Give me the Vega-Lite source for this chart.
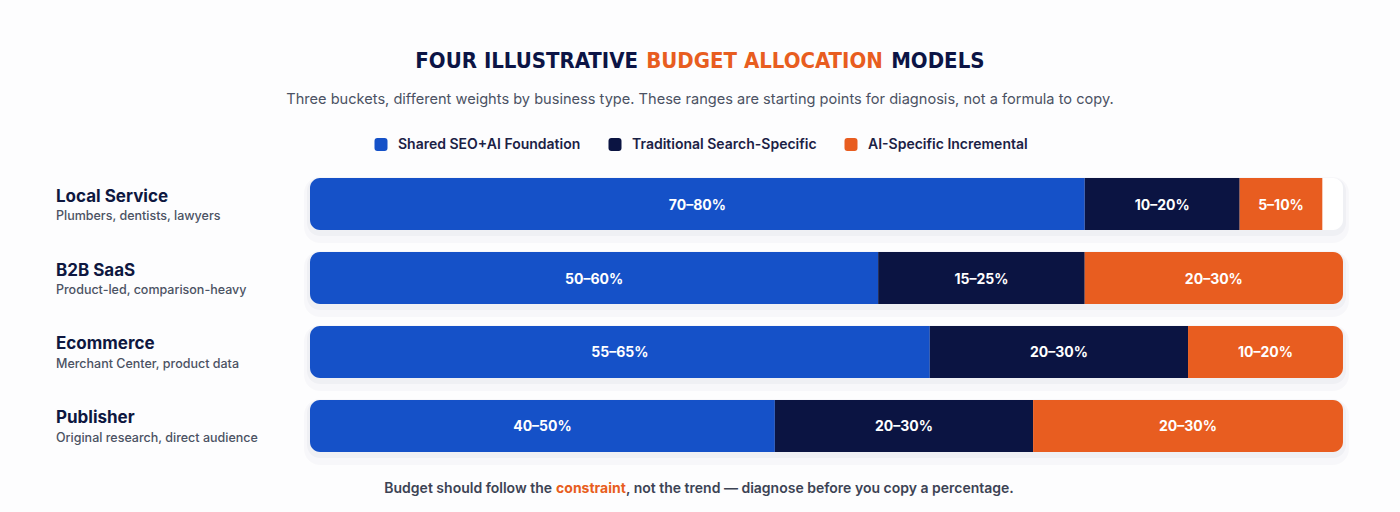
{
  "$schema": "https://vega.github.io/schema/vega-lite/v6.json",
  "width": 1400,
  "height": 512,
  "autosize": {"type": "fit", "contains": "padding"},
  "padding": 0,
  "background": "#fdfdfe",
  "config": {
    "view": {"stroke": null},
    "font": "Inter",
    "legend": {
      "orient": "none",
      "legendX": 374,
      "legendY": 137.5,
      "direction": "horizontal",
      "padding": 0,
      "labelFont": "Inter",
      "labelFontSize": 14,
      "labelFontWeight": 600,
      "labelColor": "#1b2145",
      "labelOffset": 10,
      "labelLimit": 300,
      "columnPadding": 27,
      "symbolSize": 169,
      "symbolStrokeWidth": 0,
      "symbolOpacity": 1,
      "symbolType": "M-1,-0.55 Q-1,-1 -0.55,-1 L0.55,-1 Q1,-1 1,-0.55 L1,0.55 Q1,1 0.55,1 L-0.55,1 Q-1,1 -1,0.55 Z"
    }
  },
  "datasets": {
    "models": [
      {"model": "Local Service", "note": "Plumbers, dentists, lawyers"},
      {"model": "B2B SaaS", "note": "Product-led, comparison-heavy"},
      {"model": "Ecommerce", "note": "Merchant Center, product data"},
      {"model": "Publisher", "note": "Original research, direct audience"}
    ],
    "segments": [
      {"model": "Local Service", "bucket": "Shared SEO+AI Foundation", "k": 1, "share": 75, "label": "70–80%"},
      {"model": "Local Service", "bucket": "Traditional Search-Specific", "k": 2, "share": 15, "label": "10–20%"},
      {"model": "Local Service", "bucket": "AI-Specific Incremental", "k": 3, "share": 8, "label": "5–10%"},
      {"model": "B2B SaaS", "bucket": "Shared SEO+AI Foundation", "k": 1, "share": 55, "label": "50–60%"},
      {"model": "B2B SaaS", "bucket": "Traditional Search-Specific", "k": 2, "share": 20, "label": "15–25%"},
      {"model": "B2B SaaS", "bucket": "AI-Specific Incremental", "k": 3, "share": 25, "label": "20–30%"},
      {"model": "Ecommerce", "bucket": "Shared SEO+AI Foundation", "k": 1, "share": 60, "label": "55–65%"},
      {"model": "Ecommerce", "bucket": "Traditional Search-Specific", "k": 2, "share": 25, "label": "20–30%"},
      {"model": "Ecommerce", "bucket": "AI-Specific Incremental", "k": 3, "share": 15, "label": "10–20%"},
      {"model": "Publisher", "bucket": "Shared SEO+AI Foundation", "k": 1, "share": 45, "label": "40–50%"},
      {"model": "Publisher", "bucket": "Traditional Search-Specific", "k": 2, "share": 25, "label": "20–30%"},
      {"model": "Publisher", "bucket": "AI-Specific Incremental", "k": 3, "share": 30, "label": "20–30%"}
    ]
  },
  "layer": [
    {
      "encoding": {
        "y": {
          "field": "model",
          "type": "nominal",
          "sort": ["Local Service", "B2B SaaS", "Ecommerce", "Publisher"],
          "scale": {"range": [178, 452], "paddingInner": 0.297, "paddingOuter": 0},
          "axis": null
        }
      },
      "layer": [
        {
          "data": {"name": "models"},
          "mark": {"type": "bar", "color": "#0b1442", "opacity": 0.022, "cornerRadius": 16, "height": 66, "yOffset": 6, "xOffset": -6, "x2Offset": 6},
          "encoding": {
            "x": {"datum": 0, "type": "quantitative", "scale": {"domain": [-30.01, 105.52], "nice": false, "zero": false}, "axis": null},
            "x2": {"datum": 100}
          }
        },
        {
          "data": {"name": "models"},
          "mark": {"type": "bar", "color": "#0b1442", "opacity": 0.03, "cornerRadius": 13, "height": 58, "yOffset": 3, "xOffset": -3, "x2Offset": 3},
          "encoding": {
            "x": {"datum": 0, "type": "quantitative", "scale": {"domain": [-30.01, 105.52], "nice": false, "zero": false}, "axis": null},
            "x2": {"datum": 100}
          }
        },
        {
          "data": {"name": "models"},
          "mark": {"type": "bar", "color": "#ffffff", "cornerRadius": 10},
          "encoding": {
            "x": {"datum": 0, "type": "quantitative", "scale": {"domain": [-30.01, 105.52], "nice": false, "zero": false}, "axis": null},
            "x2": {"datum": 100}
          }
        },
        {
          "data": {"name": "segments"},
          "transform": [
            {"stack": "share", "groupby": ["model"], "sort": [{"field": "k", "order": "ascending"}], "as": ["x0", "x1"]},
            {"filter": "datum.k == 1"}
          ],
          "mark": {"type": "bar", "cornerRadiusTopLeft": 10, "cornerRadiusBottomLeft": 10},
          "encoding": {
            "x": {"field": "x0", "type": "quantitative", "scale": {"domain": [-30.01, 105.52], "nice": false, "zero": false}, "axis": null},
            "x2": {"field": "x1"},
            "color": {
              "field": "bucket",
              "type": "nominal",
              "scale": {
                "domain": ["Shared SEO+AI Foundation", "Traditional Search-Specific", "AI-Specific Incremental"],
                "range": ["#1551c8", "#0b1442", "#e85d20"]
              },
              "legend": {"title": null}
            }
          }
        },
        {
          "data": {"name": "segments"},
          "transform": [
            {"stack": "share", "groupby": ["model"], "sort": [{"field": "k", "order": "ascending"}], "as": ["x0", "x1"]},
            {"filter": "datum.k == 2 || (datum.k == 3 && datum.x1 < 99.9)"}
          ],
          "mark": {"type": "bar"},
          "encoding": {
            "x": {"field": "x0", "type": "quantitative", "scale": {"domain": [-30.01, 105.52], "nice": false, "zero": false}, "axis": null},
            "x2": {"field": "x1"},
            "color": {"field": "bucket", "type": "nominal"}
          }
        },
        {
          "data": {"name": "segments"},
          "transform": [
            {"stack": "share", "groupby": ["model"], "sort": [{"field": "k", "order": "ascending"}], "as": ["x0", "x1"]},
            {"filter": "datum.k == 3 && datum.x1 >= 99.9"}
          ],
          "mark": {"type": "bar", "cornerRadiusTopRight": 10, "cornerRadiusBottomRight": 10},
          "encoding": {
            "x": {"field": "x0", "type": "quantitative", "scale": {"domain": [-30.01, 105.52], "nice": false, "zero": false}, "axis": null},
            "x2": {"field": "x1"},
            "color": {"field": "bucket", "type": "nominal"}
          }
        },
        {
          "data": {"name": "segments"},
          "mark": {"type": "text", "color": "#ffffff", "fontSize": 14, "fontWeight": 700, "align": "center", "baseline": "middle", "dy": 1.5},
          "encoding": {
            "x": {"field": "share", "type": "quantitative", "stack": "zero", "bandPosition": 0.5, "scale": {"domain": [-30.01, 105.52], "nice": false, "zero": false}, "axis": null},
            "detail": {"field": "bucket"},
            "order": {"field": "k", "type": "quantitative"},
            "text": {"field": "label"}
          }
        },
        {
          "data": {"name": "models"},
          "mark": {"type": "text", "align": "left", "baseline": "middle", "dy": -7.5, "fontSize": 17, "fontWeight": 700, "color": "#0e1740"},
          "encoding": {
            "x": {"datum": -24.59, "type": "quantitative", "scale": {"domain": [-30.01, 105.52], "nice": false, "zero": false}, "axis": null},
            "text": {"field": "model"}
          }
        },
        {
          "data": {"name": "models"},
          "mark": {"type": "text", "align": "left", "baseline": "middle", "dy": 12, "fontSize": 12.5, "fontWeight": 500, "color": "#4b5263"},
          "encoding": {
            "x": {"datum": -24.59, "type": "quantitative", "scale": {"domain": [-30.01, 105.52], "nice": false, "zero": false}, "axis": null},
            "text": {"field": "note"}
          }
        }
      ]
    },
    {
      "encoding": {
        "x": {"field": "pos", "type": "quantitative", "scale": {"domain": [-30.01, 105.52], "nice": false, "zero": false}, "axis": null},
        "y": {"field": "row", "type": "quantitative", "scale": {"domain": [0, 100], "reverse": true, "nice": false, "zero": false}, "axis": null},
        "text": {"field": "t"}
      },
      "layer": [
        {
          "data": {"values": [{"t": "FOUR ILLUSTRATIVE", "pos": 31.76, "row": 11.9}]},
          "mark": {"type": "text", "align": "right", "baseline": "middle", "font": "DejaVu Sans Condensed, Roboto Condensed, Roboto", "fontSize": 22, "fontWeight": 700, "color": "#0c1445"}
        },
        {
          "data": {"values": [{"t": "BUDGET ALLOCATION", "pos": 44.0, "row": 11.9}]},
          "mark": {"type": "text", "align": "center", "baseline": "middle", "font": "DejaVu Sans Condensed, Roboto Condensed, Roboto", "fontSize": 22, "fontWeight": 700, "color": "#e85d20"}
        },
        {
          "data": {"values": [{"t": "MODELS", "pos": 56.26, "row": 11.9}]},
          "mark": {"type": "text", "align": "left", "baseline": "middle", "font": "DejaVu Sans Condensed, Roboto Condensed, Roboto", "fontSize": 22, "fontWeight": 700, "color": "#0c1445"}
        },
        {
          "data": {"values": [{"t": "Three buckets, different weights by business type. These ranges are starting points for diagnosis, not a formula to copy.", "pos": 37.75, "row": 19.45}]},
          "mark": {"type": "text", "align": "center", "baseline": "middle", "fontSize": 14.6, "fontWeight": 400, "color": "#4b5263"}
        },
        {
          "data": {"values": [{"t": "Budget should follow the", "pos": 23.43, "row": 95.6}]},
          "mark": {"type": "text", "align": "right", "baseline": "middle", "fontSize": 14, "fontWeight": 600, "color": "#3c4354"}
        },
        {
          "data": {"values": [{"t": "constraint", "pos": 27.2, "row": 95.6}]},
          "mark": {"type": "text", "align": "center", "baseline": "middle", "fontSize": 14, "fontWeight": 700, "color": "#e85d20"}
        },
        {
          "data": {"values": [{"t": ", not the trend — diagnose before you copy a percentage.", "pos": 30.59, "row": 95.6}]},
          "mark": {"type": "text", "align": "left", "baseline": "middle", "fontSize": 14, "fontWeight": 600, "color": "#3c4354"}
        }
      ]
    }
  ],
  "resolve": {"scale": {"y": "independent"}}
}
